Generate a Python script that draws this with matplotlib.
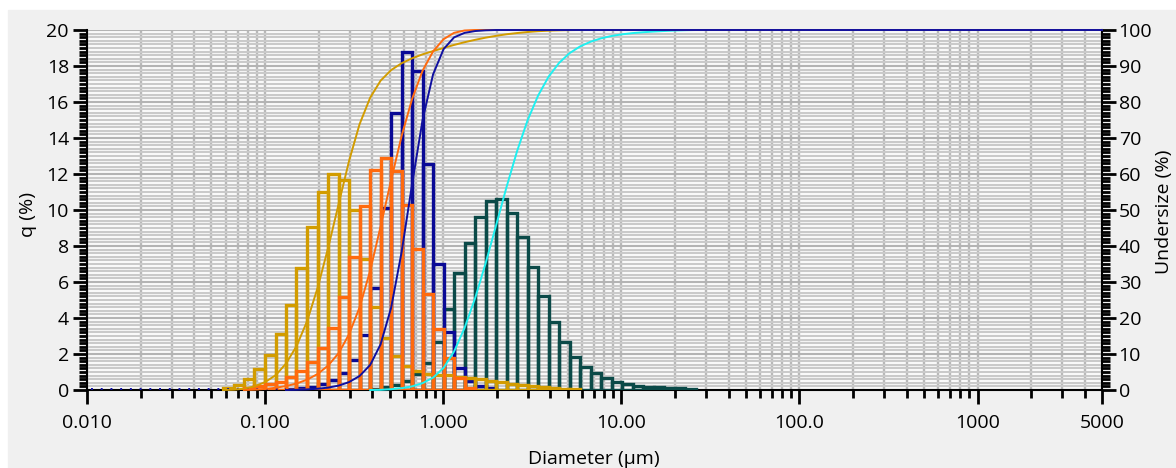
import matplotlib
matplotlib.use("Agg")
import matplotlib.pyplot as plt
from matplotlib.patches import Rectangle
from matplotlib.ticker import FixedLocator, MultipleLocator, NullFormatter
import numpy as np

plt.rcParams['font.family'] = ['Open Sans', 'DejaVu Sans']

# size class edges (um)
edges = [0.011, 0.013, 0.015, 0.017, 0.020, 0.023, 0.026, 0.030, 0.034, 0.039,
         0.044, 0.051, 0.058, 0.067, 0.076, 0.087, 0.100, 0.115, 0.131, 0.150,
         0.172, 0.197, 0.226, 0.259, 0.296, 0.339, 0.389, 0.445, 0.510, 0.584,
         0.669, 0.766, 0.877, 1.005, 1.151, 1.318, 1.510, 1.729, 1.981, 2.269,
         2.599, 2.976, 3.409, 3.905, 4.472, 5.122, 5.867, 6.720, 7.697, 8.816,
         10.097, 11.565, 13.246, 15.172, 17.377, 19.904, 22.797, 26.111, 29.907]

# q (%) per class, each series starts at a class index
green_start = 26
green_q = [0.04, 0.18, 0.28, 0.5, 0.89, 1.52, 2.69, 4.52, 6.48, 8.17, 9.59, 10.5,
           10.61, 9.85, 8.48, 6.81, 5.22, 3.80, 2.69, 1.85, 1.30, 0.93, 0.65,
           0.46, 0.33, 0.24, 0.19, 0.15, 0.13, 0.09, 0.06]
blue_start = 18
blue_q = [0.06, 0.1, 0.19, 0.31, 0.56, 0.96, 1.67, 3.06, 5.69, 10.1, 15.37, 18.8,
          17.7, 12.56, 7.0, 3.24, 1.24, 0.5, 0.2, 0.09]
gold_start = 12
gold_q = [0.09, 0.28, 0.61, 1.17, 1.94, 3.11, 4.72, 6.80, 9.07, 10.98, 12.0, 11.67,
          10.0, 7.26, 4.63, 2.89, 1.87, 1.35, 1.07, 0.89, 0.85, 0.83, 0.74, 0.65,
          0.59, 0.5, 0.43, 0.33, 0.28, 0.22, 0.15, 0.09, 0.06, 0.03]
orange_start = 14
orange_q = [0.1, 0.2, 0.33, 0.46, 0.7, 1.06, 1.57, 2.35, 3.46, 5.19, 7.41, 10.2,
            12.2, 12.87, 12.19, 10.28, 7.81, 5.33, 3.39, 1.76, 0.65, 0.13]

xticks = [0.01, 0.1, 1, 10, 100, 1000, 5000]
xticklabels = ["0.010", "0.100", "1.000", "10.00", "100.0", "1000", "5000"]

W, H = 1176, 468
fig = plt.figure(figsize=(W / 100, H / 100), dpi=100, facecolor='white')
fig.patches.append(Rectangle((8 / W, 0), 1, 1 - 10 / H, transform=fig.transFigure,
                             color='#f0f0f0', zorder=-10))

ax = fig.add_axes([87 / W, 78 / H, 1015 / W, 360 / H])
ax.set_facecolor('white')
ax.set_xscale('log')
ax.set_xlim(0.01, 5000)
ax.set_ylim(0, 20)

e = np.array(edges)


def bars(start, q, color):
    n = len(q)
    left = e[start:start + n]
    width = e[start + 1:start + n + 1] - left
    ax.bar(left, q, width=width, align='edge', fill=False, edgecolor=color,
           linewidth=2.4, zorder=3)


bars(green_start, green_q, '#0b4a48')
bars(blue_start, blue_q, '#0a0a96')
bars(gold_start, gold_q, '#d29c00')
bars(orange_start, orange_q, '#ff6a0e')

ax.xaxis.set_major_locator(FixedLocator(xticks))
ax.set_xticklabels(xticklabels)
minors = [m * 10.0 ** d for d in range(-2, 4) for m in range(2, 10)]
ax.xaxis.set_minor_locator(FixedLocator([v for v in minors if v < 5000]))
ax.xaxis.set_minor_formatter(NullFormatter())
ax.yaxis.set_major_locator(MultipleLocator(2))
ax.yaxis.set_minor_locator(MultipleLocator(0.2))

ax.set_axisbelow(True)
ax.yaxis.grid(True, which='minor', color='#cacaca', linewidth=1.6)
ax.yaxis.grid(True, which='major', color='#b4b4b4', linewidth=1.6)
ax.xaxis.grid(True, which='both', color='#b8b8b8', linewidth=1.7)

ax.tick_params(which='major', direction='out', length=10, width=2, labelsize=14,
               colors='black', pad=3)
ax.tick_params(which='minor', direction='out', length=6, width=2)
ax.tick_params(axis='x', which='major', pad=7)
for s in ['top', 'right']:
    ax.spines[s].set_visible(False)
for s in ['left', 'bottom']:
    ax.spines[s].set_linewidth(1.5)

ax2 = ax.twinx()
ax2.set_ylim(0, 100)
ax2.yaxis.set_major_locator(MultipleLocator(10))
ax2.yaxis.set_minor_locator(MultipleLocator(1))
ax2.tick_params(which='major', direction='out', length=10, width=2, labelsize=14, pad=2)
ax2.tick_params(which='minor', direction='out', length=6, width=2)
for s in ['top', 'left']:
    ax2.spines[s].set_visible(False)
ax2.spines['right'].set_linewidth(1.5)
ax2.spines['bottom'].set_visible(False)


def cumulative(start, q, color):
    n = len(q)
    c = np.cumsum(q)
    c = c / c[-1] * 100
    xs = np.concatenate([[e[start]], e[start + 1:start + n + 1], [5000]])
    ys = np.concatenate([[0], c, [100]])
    ax2.plot(xs, ys, color=color, linewidth=1.4, clip_on=False, zorder=4)


ax2.plot([0.0105, 0.131], [0.3, 0.3], color='#1010a0', linewidth=1.4,
         linestyle=(0, (1, 4)), zorder=4)
cumulative(gold_start, gold_q, '#d29c00')
cumulative(green_start, green_q, '#1ef0f0')
cumulative(orange_start, orange_q, '#ff6a0e')
cumulative(blue_start, blue_q, '#1010a0')

fig.text(28 / W, 1 - 215 / H, 'q (%)', rotation=90, ha='center', va='center', fontsize=14)
fig.text(1164 / W, 1 - 212 / H, 'Undersize (%)', rotation=90, ha='center', va='center',
         fontsize=14)
fig.text(594 / W, 1 - 459 / H, 'Diameter (µm)', ha='center', va='center', fontsize=14)

fig.savefig('out.png', dpi=100, facecolor=fig.get_facecolor())
